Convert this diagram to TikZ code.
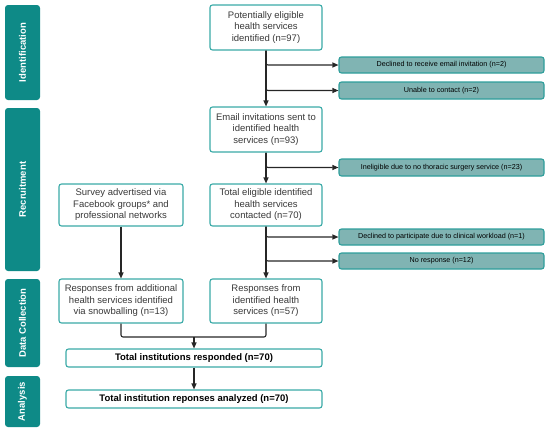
\documentclass[tikz,border=0pt]{standalone}
\usepackage{fontspec}
\setmainfont{Liberation Sans}
\usetikzlibrary{arrows.meta}
\definecolor{sidecol}{HTML}{0E8A87}
\definecolor{boxline}{HTML}{3AAAA7}
\definecolor{exfill}{HTML}{80B4B3}
\definecolor{exline}{HTML}{2E9E9B}
\definecolor{txt}{HTML}{3A3A3A}
\definecolor{conn}{HTML}{262626}
\tikzset{
  sidebar/.style={fill=sidecol, draw=none, rounded corners=3pt, rotate=90, text=white,
    font=\fontsize{9.5}{11}\selectfont\bfseries, minimum height=35pt, inner sep=0pt},
  mainbox/.style={draw=boxline, line width=1.1pt, fill=white, rounded corners=2.5pt, align=center,
    text=txt, font=\fontsize{9.5}{11.5}\selectfont, inner sep=0pt},
  totbox/.style={mainbox, font=\fontsize{9.5}{11.5}\selectfont\bfseries, text=black},
  exbox/.style={draw=exline, line width=1.1pt, fill=exfill, rounded corners=2.5pt, align=center,
    text=black, font=\fontsize{7.2}{9}\selectfont, inner sep=0pt, minimum width=205pt},
  conline/.style={draw=conn, line width=1.1pt, rounded corners=2pt},
  arr/.style={conline, -{Triangle[length=6pt,width=5pt]}}
}
\begin{document}
\begin{tikzpicture}[x=1pt,y=-1pt]
\useasboundingbox (0,0) rectangle (550,434);
% side bars
\node[sidebar, minimum width=95pt] (sid) at (22.5,52.5) {Identification};
\node[sidebar, minimum width=163pt] (sre) at (22.5,189.5) {Recruitment};
\node[sidebar, minimum width=88pt] (sdc) at (22.5,323) {Data Collection};
\node[sidebar, minimum width=51pt] (san) at (22.5,401.5) {Analysis};
% main boxes
\node[mainbox, minimum width=112pt, minimum height=45pt] (b1) at (266,27.5) {Potentially eligible\\health services\\identified (n=97)};
\node[mainbox, minimum width=112pt, minimum height=45pt] (b2) at (266,129.5) {Email invitations sent to\\identified health\\services (n=93)};
\node[mainbox, minimum width=112pt, minimum height=42pt] (b3) at (266,205) {Total eligible identified\\health services\\contacted (n=70)};
\node[mainbox, minimum width=124pt, minimum height=42pt] (sv) at (121,205) {Survey advertised via\\Facebook groups* and\\professional networks};
\node[mainbox, minimum width=124pt, minimum height=44pt] (sn) at (121,301) {Responses from additional\\health services identified\\via snowballing (n=13)};
\node[mainbox, minimum width=112pt, minimum height=44pt] (ri) at (266,301) {Responses from\\identified health\\services (n=57)};
\node[totbox, minimum width=256pt, minimum height=18pt] (tr) at (194,358) {Total institutions responded (n=70)};
\node[totbox, minimum width=256pt, minimum height=18pt] (ta) at (194,399) {Total institution reponses analyzed (n=70)};
% exclusion boxes
\node[exbox, minimum height=16pt] (r1) at (441.5,65) {Declined to receive email invitation (n=2)};
\node[exbox, minimum height=17pt] (r2) at (441.5,90.5) {Unable to contact (n=2)};
\node[exbox, minimum height=17pt] (r3) at (441.5,167.5) {Ineligible due to no thoracic surgery service (n=23)};
\node[exbox, minimum height=16pt] (r4) at (441.5,237) {Declined to participate due to clinical workload (n=1)};
\node[exbox, minimum height=16pt] (r5) at (441.5,261) {No response (n=12)};
% connectors
\draw[arr] (b1.south) -- (b2.north);
\draw[arr] (b1.south) |- (r1.west);
\draw[arr] (b1.south) |- (r2.west);
\draw[arr] (b2.south) -- (b3.north);
\draw[arr] (b2.south) |- (r3.west);
\draw[arr] (b3.south) -- (ri.north);
\draw[arr] (b3.south) |- (r4.west);
\draw[arr] (b3.south) |- (r5.west);
\draw[arr] (sv.south) -- (sn.north);
\coordinate (mj) at (194,337);
\draw[conline] (sn.south) |- (mj) -| (ri.south);
\draw[arr] (mj) -- (tr.north);
\draw[arr] (tr.south) -- (ta.north);
\end{tikzpicture}
\end{document}
